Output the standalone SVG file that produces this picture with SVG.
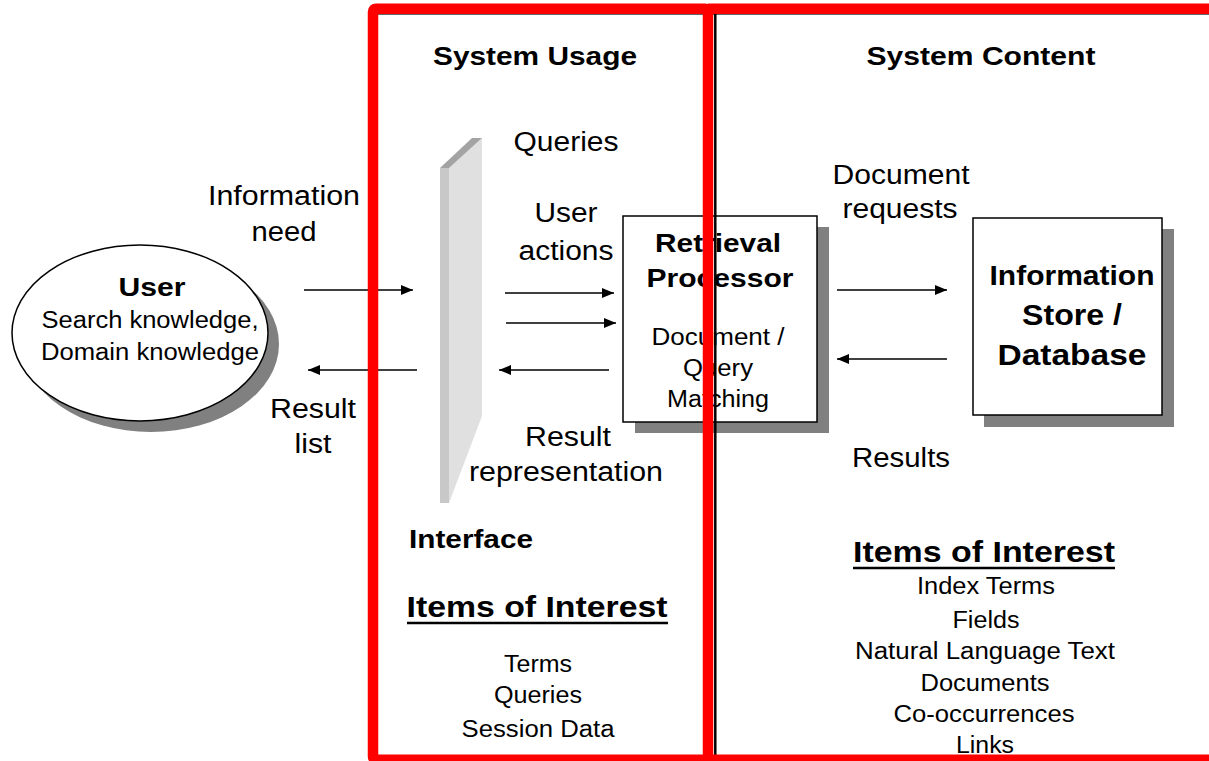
<svg xmlns="http://www.w3.org/2000/svg" width="1209" height="761" viewBox="0 0 1209 761">
<defs>
<style>
text{font-family:"Liberation Sans",Arial,sans-serif;fill:#000;text-anchor:middle}
.b{font-weight:bold}
.lbl{font-size:27px}
.sm{font-size:23px}
.hd{font-size:26.5px;font-weight:bold}
.ioi{font-size:30px;font-weight:bold}
.conn{stroke:#000;stroke-width:1.5;fill:none;marker-end:url(#ah)}
.shadow{fill:#808080}
.box{fill:#fff;stroke:#000;stroke-width:1.5}
.frame{fill:none;stroke:#ff0000;stroke-width:10.5}
</style>
<marker id="ah" markerUnits="userSpaceOnUse" markerWidth="12" markerHeight="10" refX="12" refY="5" orient="auto">
<path d="M0,0 L12,5 L0,10 z" fill="#000"/>
</marker>
</defs>
<rect x="0" y="0" width="1209" height="761" fill="#fff"/>

<g id="headers">
<text class="hd" x="535" y="65" textLength="204" lengthAdjust="spacingAndGlyphs">System Usage</text>
<text class="hd" x="981" y="65" textLength="229" lengthAdjust="spacingAndGlyphs">System Content</text>
</g>

<g id="interface">
<polygon points="440,168 449,168 449,503 440,503" fill="#c8c8c8"/>
<polygon points="449,168 482,138 482,416 449,503" fill="#e0e0e0"/>
<polygon points="440,168 472,138 482,138 449,168" fill="#a3a3a3"/>
<text class="hd" x="409" y="548" style="text-anchor:start" textLength="124" lengthAdjust="spacingAndGlyphs">Interface</text>
</g>

<g id="user">
<ellipse class="shadow" cx="151" cy="344" rx="128" ry="88"/>
<ellipse cx="140" cy="333" rx="128" ry="88" fill="#fff" stroke="#000" stroke-width="1.5"/>
<text class="hd" x="152" y="296" textLength="67" lengthAdjust="spacingAndGlyphs">User</text>
<text class="sm" x="150" y="328" textLength="217" lengthAdjust="spacingAndGlyphs">Search knowledge,</text>
<text class="sm" x="150" y="360" textLength="218" lengthAdjust="spacingAndGlyphs">Domain knowledge</text>
</g>

<g id="retrieval-processor">
<rect class="shadow" x="635" y="227" width="194" height="206"/>
<rect class="box" x="623" y="216" width="194" height="206"/>
<text class="hd" x="718" y="252" textLength="126" lengthAdjust="spacingAndGlyphs">Retrieval</text>
<text class="hd" x="720" y="287" textLength="147" lengthAdjust="spacingAndGlyphs">Processor</text>
<text class="sm" x="718" y="345" textLength="133" lengthAdjust="spacingAndGlyphs">Document /</text>
<text class="sm" x="718" y="376" textLength="70" lengthAdjust="spacingAndGlyphs">Query</text>
<text class="sm" x="718" y="407" textLength="102" lengthAdjust="spacingAndGlyphs">Matching</text>
</g>

<g id="information-store">
<rect class="shadow" x="984" y="229" width="190" height="198"/>
<rect class="box" x="973" y="218" width="189" height="197"/>
<text class="b" style="font-size:26.8px" x="1072" y="285" textLength="165" lengthAdjust="spacingAndGlyphs">Information</text>
<text class="b" style="font-size:29.5px" x="1072" y="325" textLength="100" lengthAdjust="spacingAndGlyphs">Store /</text>
<text class="b" style="font-size:29.5px" x="1072" y="365" textLength="149" lengthAdjust="spacingAndGlyphs">Database</text>
</g>

<g id="labels">
<text class="lbl" x="284" y="205" textLength="152" lengthAdjust="spacingAndGlyphs">Information</text>
<text class="lbl" x="284" y="241" textLength="65" lengthAdjust="spacingAndGlyphs">need</text>
<text class="lbl" x="313" y="418" textLength="86" lengthAdjust="spacingAndGlyphs">Result</text>
<text class="lbl" x="313" y="453" textLength="37" lengthAdjust="spacingAndGlyphs">list</text>
<text class="lbl" x="566" y="151" textLength="105" lengthAdjust="spacingAndGlyphs">Queries</text>
<text class="lbl" x="566" y="222" textLength="63" lengthAdjust="spacingAndGlyphs">User</text>
<text class="lbl" x="566" y="260" textLength="95" lengthAdjust="spacingAndGlyphs">actions</text>
<text class="lbl" x="568" y="446" textLength="86" lengthAdjust="spacingAndGlyphs">Result</text>
<text class="lbl" x="566" y="481" textLength="194" lengthAdjust="spacingAndGlyphs">representation</text>
<text class="lbl" x="901" y="184" textLength="137" lengthAdjust="spacingAndGlyphs">Document</text>
<text class="lbl" x="900" y="218" textLength="115" lengthAdjust="spacingAndGlyphs">requests</text>
<text class="lbl" x="901" y="467" textLength="98" lengthAdjust="spacingAndGlyphs">Results</text>
</g>

<g id="usage-items">
<text class="ioi" x="537" y="617" textLength="261" lengthAdjust="spacingAndGlyphs">Items of Interest</text>
<line x1="407" y1="623" x2="668" y2="623" stroke="#000" stroke-width="2.5"/>
<text class="sm" x="538" y="672" textLength="68" lengthAdjust="spacingAndGlyphs">Terms</text>
<text class="sm" x="538" y="703" textLength="88" lengthAdjust="spacingAndGlyphs">Queries</text>
<text class="sm" x="538" y="737" textLength="153" lengthAdjust="spacingAndGlyphs">Session Data</text>
</g>

<g id="content-items">
<text class="ioi" x="984" y="562" textLength="262" lengthAdjust="spacingAndGlyphs">Items of Interest</text>
<line x1="853" y1="568" x2="1115" y2="568" stroke="#000" stroke-width="2.5"/>
<text class="sm" x="986" y="594" textLength="138" lengthAdjust="spacingAndGlyphs">Index Terms</text>
<text class="sm" x="986" y="628" textLength="67" lengthAdjust="spacingAndGlyphs">Fields</text>
<text class="sm" x="985" y="659" textLength="260" lengthAdjust="spacingAndGlyphs">Natural Language Text</text>
<text class="sm" x="985" y="691" textLength="129" lengthAdjust="spacingAndGlyphs">Documents</text>
<text class="sm" x="984" y="722" textLength="181" lengthAdjust="spacingAndGlyphs">Co-occurrences</text>
<text class="sm" x="985" y="753" textLength="58" lengthAdjust="spacingAndGlyphs">Links</text>
</g>

<g id="connectors">
<line class="conn" x1="304" y1="290" x2="413" y2="290"/>
<line class="conn" x1="417" y1="370" x2="308" y2="370"/>
<line class="conn" x1="505" y1="293" x2="614" y2="293"/>
<line class="conn" x1="506" y1="323" x2="616" y2="323"/>
<line class="conn" x1="609" y1="370" x2="499" y2="370"/>
<line class="conn" x1="837" y1="290" x2="947" y2="290"/>
<line class="conn" x1="947" y1="359" x2="837" y2="359"/>
</g>

<g id="frames">
<line x1="378" y1="14.5" x2="1209" y2="14.5" stroke="#666" stroke-width="1"/>
<line x1="715.3" y1="14" x2="715.3" y2="755" stroke="#000" stroke-width="2.5"/>
<rect class="frame" x="373" y="8.7" width="335" height="751" rx="3"/>
<path class="frame" d="M708 8.7 H1220 M708 759.7 H1220"/>
</g>
</svg>
